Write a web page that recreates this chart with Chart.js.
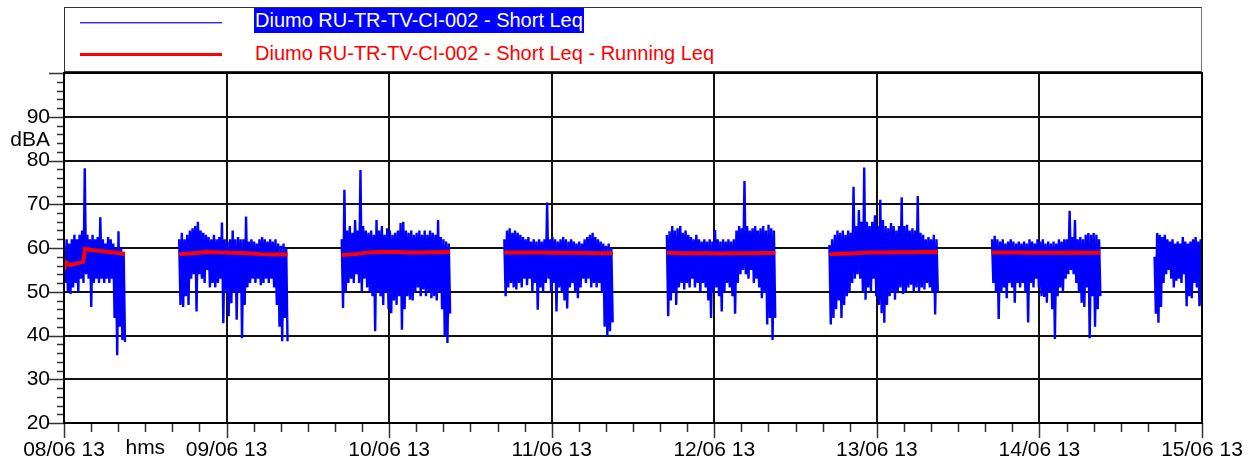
<!DOCTYPE html>
<html>
<head>
<meta charset="utf-8">
<script src="https://cdn.jsdelivr.net/npm/chart.js@4.4.0/dist/chart.umd.min.js"></script>
<style>
  html, body { margin:0; padding:0; background:#fff; }
  #wrap { position:relative; width:1259px; height:466px; overflow:hidden; font-family:"Liberation Sans", Arial, sans-serif; }
  #c { position:absolute; left:0; top:0; }
  #legend { position:absolute; left:64px; top:7px; width:1136px; height:63px; border:1px solid #333; border-right-color:#777; background:#fff; }
  .lg-line { position:absolute; left:15px; width:142px; }
  .lg-text { position:absolute; left:189px; font-size:20px; line-height:25px; white-space:nowrap; }
</style>
</head>
<body>
<div id="wrap">
  <canvas id="c" width="1259" height="466"></canvas>
  <div id="legend">
    <div class="lg-line" style="top:14px;height:1px;background:#2a2aff;box-shadow:0 1px 0 rgba(60,60,255,0.45);"></div>
    <div class="lg-text" style="top:0px;background:#0000ff;color:#fff;padding:0 1px 0 1px;">Diumo RU-TR-TV-CI-002 - Short Leq</div>
    <div class="lg-line" style="top:45px;height:3px;background:#ff0000;"></div>
    <div class="lg-text" style="top:33px;color:#ff0000;padding-left:1px;">Diumo RU-TR-TV-CI-002 - Short Leq - Running Leq</div>
  </div>
</div>
<script>
// ---- axis labels / categories ----
const dayLabels = ['08/06 13','09/06 13','10/06 13','11/06 13','12/06 13','13/06 13','14/06 13','15/06 13'];
const dayTickHours = [0,24,48,72,96,120,144,168];           // hours since 08/06 13:00
const blockStartHour = [0,17,41,65,89,113,137,161];           // day-time periods (06:00)
const blockEndHour   = [9,33,57,81,105,129,153,168];          // (22:00 / end of record)

// ---- Short Leq (blue): alternating upper / lower readings per block, dBA ----
const shortHi_0806 = [59,62,61,62,63,62,63,64,78.2,63,62,63,62,62.5,67,62,61,62.5,62,61,60,63.8,60,59];
const shortLo_0806 = [52,50,49.5,51,52,50,53,52,54,53,46.5,52,53,52,53,52,53,52,53,44,35.5,42,39,38.5];
const shortHi_0906 = [62,63.5,62,63,64,64.5,65,66,64,63.5,63,62.5,62,63,62,62.5,65.8,62,61.5,62,64,62,62.5,62,62,67.2,61.5,62,61.5,61,62,62.5,62,61.5,62,61.5,62,61,60.5,61,60];
const shortLo_0906 = [47,46.5,49,47,53,54,45.5,54,53,52,55,51,52,51,52,53,42.8,50,44.4,47.4,50,43.6,50,39.4,47,51,52,53,52,53,51.5,52,53,52,53,51,47,42,38.7,44,38.7];
const shortHi_1006 = [62,73.3,64,65,63.5,66.4,64,77.8,65,64,63.5,64,63,66.4,64,65,63,64.5,64,63,63.5,64,65.7,66,64,63.5,64,63,63.5,64,63,64,63,64,63.5,63,66.4,62.5,62,61.5,61];
const shortLo_1006 = [46.3,50,52,53,52,54,52,50,53,51,50,49,41,50,49,47,50,46,45.1,48,47,49,41.3,46,49,48.2,48,50,51,49,50.5,49,50,48.5,49,48,50,46,40,38.3,45];
const shortHi_1106 = [62,64,64.5,63.5,64,63.5,63,62.5,62,62.5,61.5,62,61.5,62,61.5,62,70.4,62,62.5,62,61.5,62,62.5,62,61.5,62,61.5,61,61.5,61,62,62.5,63,63.5,62.5,62,61.5,61,60.5,61,60];
const shortLo_1106 = [49,51,52,51,50.5,52,51,53,51.5,53,50,52,45.9,51,50,52,53,50,52,45.5,51,50,48,46.2,51,52,50,48.5,51,53,52,53,51,52,51,52,50,42,39.8,41,43];
const shortHi_1206 = [63,63.8,65,64,64.5,65,63.5,64,63,62.5,62,63,62,61.5,62,61.5,62,61.5,64.1,62,61.5,62,61.5,62,61.5,62,64,65,64.5,75.3,65,64,64.5,65,64,64.5,65,64,65.3,64.5,64];
const shortLo_1206 = [44.4,48,50,47,51,52,50.5,52,51,53,51,52,50,52,51,48,44,50,51,49,45.5,50,52,51,49,45,52,54,55,54,53,55,52,53,51,48.5,50,42.5,44,39,44];
const shortHi_1306 = [60.7,62,63,64,63.5,64,63,64,63.5,74,65,68.7,66,78.4,66,65,66,67.5,65,71,66.4,65,64.5,65.7,65,64,65,71.6,65,65.3,64,64.5,64,71.9,63.5,63,62,62.5,62,63,62];
const shortLo_1306 = [42.5,44,46,48,44,47,49,50,52,53,54,53,50,48.2,51,50,53,49,47,45.1,42.9,47,49,50,48.2,50,51,49.5,50,51,51.6,50,51,50,51,50.5,52,51,50,44.8,50];
const shortHi_1406 = [62,62.8,62,61.5,62,61,61.5,62,61.5,61,61.5,61,61.5,61,62,61.5,61,62,61.5,62,61,61.5,61,61.5,61,62,61.5,62,62,68.5,62.5,66.4,62,62.5,62,63,63.4,63,63.4,63,62];
const shortLo_1406 = [52,50,43.8,50,51,48.5,52,51,47.5,52,51,52,50,43,52,51,53,51,49,48.8,47.5,50,46,39.2,49,51,50,53,54,55,54,52,50,47.5,46.5,51,39.4,49,42,46,49];
const shortHi_1506 = [58,63.4,63,62.5,63,62,61.5,62,61,61.5,61,62.5,61.5,61,61.5,62,62.5,61.5,62];
const shortLo_1506 = [45,42.9,46.5,52,54,55,53,51,52.5,53,52,54,46.7,49,48.5,52,51,46.7,47];

// ---- Running Leq (red), dBA ----
const runHours_0806 = [0,0.3,0.9,2.85,3.1,3.8,6,9];
const runLeq_0806   = [55,56.7,56.1,56.9,59.8,59.6,59.2,58.7];
const runStepHours  = 2;
const runLeq_0906 = [58.6,58.8,59.1,59.0,58.9,58.8,58.6,58.5,58.5];
const runLeq_1006 = [58.4,58.6,59.0,59.1,59.1,59.0,59.0,59.05,59.1];
const runLeq_1106 = [59.0,59.0,59.0,58.95,58.9,58.9,58.85,58.8,58.8];
const runLeq_1206 = [58.9,58.8,58.8,58.8,58.75,58.8,58.8,58.85,58.85];
const runLeq_1306 = [58.6,58.7,58.8,59.0,59.0,59.05,59.05,59.1,59.1];
const runLeq_1406 = [59.0,59.0,58.95,58.9,58.9,58.9,58.95,58.9,58.9];

// ---- build datasets ----
const shortBlocks = [
  [shortHi_0806, shortLo_0806], [shortHi_0906, shortLo_0906], [shortHi_1006, shortLo_1006],
  [shortHi_1106, shortLo_1106], [shortHi_1206, shortLo_1206], [shortHi_1306, shortLo_1306],
  [shortHi_1406, shortLo_1406], [shortHi_1506, shortLo_1506]
];
const shortData = [];
shortBlocks.forEach(([hi, lo], b) => {
  const s = blockStartHour[b], e = blockEndHour[b];
  const step = (e - s) / (hi.length - 0.5);
  for (let i = 0; i < hi.length; i++) {
    shortData.push({x: s + i * step, y: hi[i]});
    shortData.push({x: s + (i + 0.5) * step, y: lo[i]});
  }
  shortData.push({x: e + 0.01, y: null});
});

const runData = [];
runHours_0806.forEach((h, i) => runData.push({x: blockStartHour[0] + h, y: runLeq_0806[i]}));
runData.push({x: blockEndHour[0] + 0.01, y: null});
[runLeq_0906, runLeq_1006, runLeq_1106, runLeq_1206, runLeq_1306, runLeq_1406].forEach((arr, k) => {
  const s = blockStartHour[k + 1];
  arr.forEach((v, i) => runData.push({x: s + i * runStepHours, y: v}));
  runData.push({x: blockEndHour[k + 1] + 0.01, y: null});
});

const FONT = {family: '"Liberation Sans", Arial, sans-serif', size: 21};

const decor = {
  id: 'decor',
  afterDraw(chart) {
    const ctx = chart.ctx;
    const {left, right, top, bottom} = chart.chartArea;
    const xs = chart.scales.x, ys = chart.scales.y;
    ctx.save();
    // tick marks
    ctx.strokeStyle = '#333';
    ctx.lineWidth = 1.5;
    ctx.beginPath();
    for (let v = ys.min; v <= ys.max; v += 2) {
      const py = Math.round(ys.getPixelForValue(v)) + 0.5;
      const len = v % 10 === 0 ? 15 : 7;
      ctx.moveTo(left - len, py); ctx.lineTo(left, py);
    }
    for (let h = xs.min; h <= xs.max; h += 4) {
      const px = Math.round(xs.getPixelForValue(h)) + 0.5;
      const len = h % 24 === 0 ? 15 : 9;
      ctx.moveTo(px, bottom); ctx.lineTo(px, bottom + len);
    }
    ctx.stroke();
    // frame
    ctx.strokeStyle = '#000';
    ctx.lineWidth = 2;
    ctx.strokeRect(left, top, right - left, bottom - top);
    // unit labels
    ctx.fillStyle = '#000';
    ctx.font = FONT.size + 'px ' + FONT.family;
    ctx.textAlign = 'right';
    ctx.textBaseline = 'middle';
    ctx.fillText('dBA', left - 14, ys.getPixelForValue(84.7));
    ctx.textAlign = 'center';
    ctx.textBaseline = 'top';
    ctx.fillText('hms', xs.getPixelForValue(12), bottom + 15);
    ctx.restore();
  }
};

new Chart(document.getElementById('c'), {
  type: 'line',
  data: {
    datasets: [
      {label: 'Diumo RU-TR-TV-CI-002 - Short Leq - Running Leq', data: runData, borderColor: '#ff0000', borderWidth: 4, pointRadius: 0, spanGaps: false, order: 0},
      {label: 'Diumo RU-TR-TV-CI-002 - Short Leq', data: shortData, borderColor: '#0000ff', borderWidth: 2.4, pointRadius: 0, spanGaps: false, order: 1}
    ]
  },
  options: {
    responsive: false,
    animation: false,
    devicePixelRatio: 1,
    layout: {padding: {top: 73, right: 57, left: 0, bottom: 0}},
    plugins: {legend: {display: false}, tooltip: {enabled: false}},
    elements: {line: {tension: 0, borderJoinStyle: 'miter'}},
    scales: {
      x: {
        type: 'linear', min: 0, max: 168,
        afterBuildTicks: s => { s.ticks = dayTickHours.map(v => ({value: v})); },
        afterFit: s => { s.height = 43; },
        ticks: {autoSkip: false, maxRotation: 0, padding: 15, color: '#000', font: FONT,
                callback: v => dayLabels[dayTickHours.indexOf(v)] ?? ''},
        grid: {color: '#111', lineWidth: 2, drawTicks: false},
        border: {display: false}
      },
      y: {
        min: 20, max: 100,
        afterFit: s => { s.width = 64; },
        ticks: {stepSize: 10, padding: 14, color: '#000', font: FONT,
                callback: v => (v === 100 ? '' : String(v))},
        grid: {color: '#111', lineWidth: 2, drawTicks: false},
        border: {display: false}
      }
    }
  },
  plugins: [decor]
});
</script>
</body>
</html>
